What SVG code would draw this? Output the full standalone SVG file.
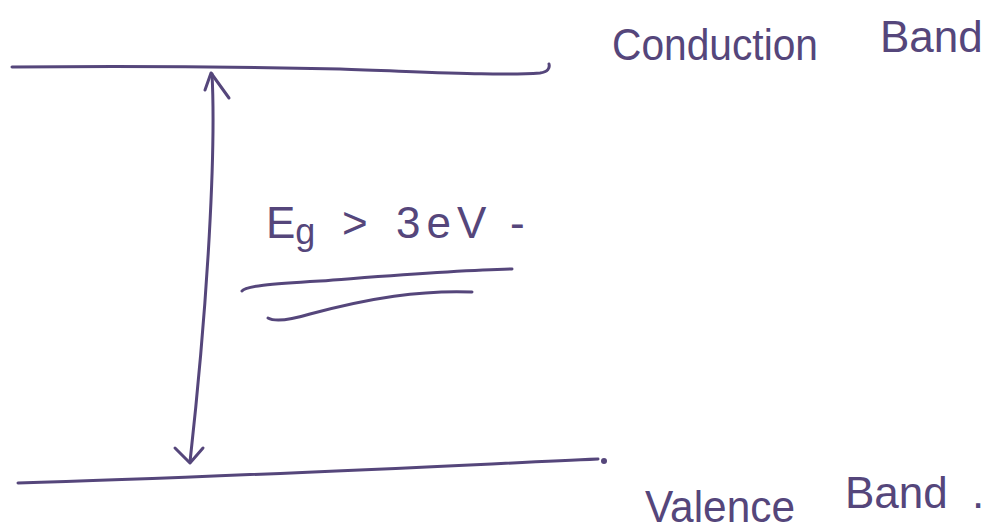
<svg xmlns="http://www.w3.org/2000/svg" width="988" height="531" viewBox="0 0 988 531">
<style>
.ink{fill:none;stroke:#55467b;stroke-width:3;stroke-linecap:round;stroke-linejoin:round}
.lbl{fill:#55467b;font-family:"Liberation Sans","DejaVu Sans",sans-serif;font-size:44px}
</style>
<rect width="988" height="531" fill="#ffffff"/>
<g id="conduction-band">
<path class="ink" d="M12,67 C120,66 250,67 340,69 C430,72 500,76 540,73 C548,72 550,68 549,64"/>
<text class="lbl"><tspan x="612" y="60" textLength="206" lengthAdjust="spacingAndGlyphs">Conduction</tspan><tspan x="880" y="52">Band</tspan></text>
</g>
<g id="valence-band">
<path class="ink" d="M18,483 C200,478 400,468 598,459"/>
<circle cx="604" cy="461" r="3" fill="#55467b"/>
<text class="lbl"><tspan x="645" y="522" textLength="150" lengthAdjust="spacingAndGlyphs">Valence</tspan><tspan x="845" y="508">Band</tspan><tspan x="972" y="508">.</tspan></text>
</g>
<g id="band-gap-label">
<text class="lbl" x="266" y="238">E<tspan font-size="36" dy="6">g</tspan><tspan dy="-6" x="342">&gt;</tspan><tspan x="396" letter-spacing="6">3eV</tspan><tspan x="510">-</tspan></text>
<path class="ink" d="M242,291 C245,286 270,284 320,281 C400,275 460,270 512,269"/>
<path class="ink" d="M268,318 C275,322 290,320 310,314 C370,298 420,290 472,292"/>
</g>
<g id="connectors">
<path class="ink" d="M212,74 C216,150 208,300 190,462"/>
<path class="ink" d="M205,90 L211,73 L229,98"/>
<path class="ink" d="M175,448 L190,463 L203,448"/>
</g>
</svg>
